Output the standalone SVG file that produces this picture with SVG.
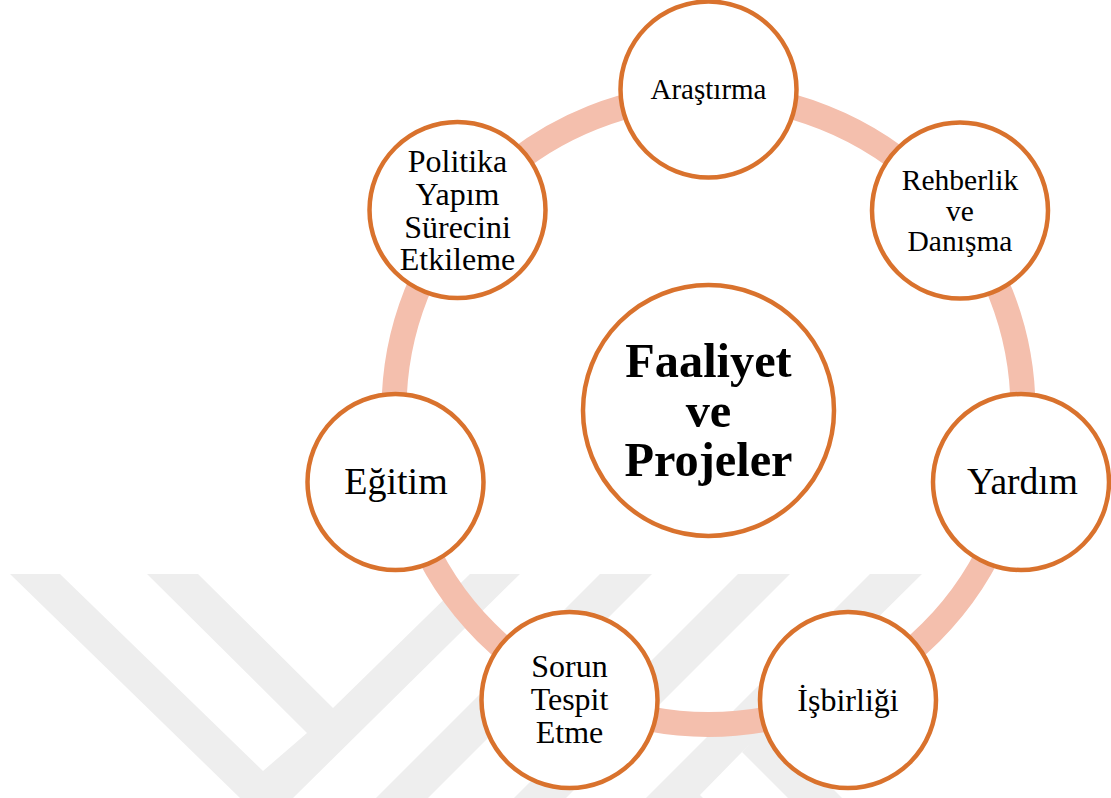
<svg xmlns="http://www.w3.org/2000/svg" width="1111" height="798" viewBox="0 0 1111 798">
<style>
.wm{fill:#eeeeee;stroke:none}
.ring{fill:none;stroke:#f4bfad;stroke-width:25}
.n{fill:#ffffff;stroke:#d9722d;stroke-width:4.5}
text{font-family:"Liberation Serif","Times New Roman",serif;fill:#000000;text-anchor:middle}
</style>
<rect width="1111" height="798" fill="#ffffff"/>
<g id="watermark">
<polygon class="wm" points="10,574 60,574 263,771 307,733 147,574 198,574 333,708 470,574 520,574 293,798 240,798"/>
<polygon class="wm" points="600,574 652,574 428,798 376,798"/>
<polygon class="wm" points="738,574 790,574 566,798 514,798"/>
<polygon class="wm" points="870,574 922,574 742,752 700,795 703,798 646,798 768,676"/>
<polygon class="wm" points="742,752 788,798 842,798 768,724"/>
</g>
<g id="connectors"><circle class="ring" cx="708.5" cy="410" r="314.5"/></g>
<g id="center"><circle class="n" cx="708.5" cy="410.5" r="125.5"/><text font-size="48.3" font-weight="bold"><tspan x="708.5" y="377">Faaliyet</tspan><tspan x="708.5" y="427">ve</tspan><tspan x="708.5" y="476">Projeler</tspan></text></g>
<g id="arastirma"><circle class="n" cx="708.5" cy="89.5" r="88"/><text x="708.5" y="99" font-size="29">Araştırma</text></g>
<g id="rehberlik"><circle class="n" cx="960" cy="210.5" r="88"/><text font-size="29.5"><tspan x="960" y="190">Rehberlik</tspan><tspan x="960" y="221">ve</tspan><tspan x="960" y="250.5">Danışma</tspan></text></g>
<g id="yardim"><circle class="n" cx="1021" cy="482" r="88"/><text x="1022.5" y="494" font-size="37.5">Yardım</text></g>
<g id="isbirligi"><circle class="n" cx="848" cy="700" r="88"/><text x="848" y="711" font-size="32">İşbirliği</text></g>
<g id="sorun"><circle class="n" cx="569.5" cy="700" r="88"/><text font-size="32"><tspan x="569.5" y="677">Sorun</tspan><tspan x="569.5" y="710">Tespit</tspan><tspan x="569.5" y="743">Etme</tspan></text></g>
<g id="egitim"><circle class="n" cx="395.5" cy="482" r="88"/><text x="396" y="494" font-size="38">Eğitim</text></g>
<g id="politika"><circle class="n" cx="457.5" cy="210" r="88"/><text font-size="32"><tspan x="457.5" y="172">Politika</tspan><tspan x="457.5" y="205">Yapım</tspan><tspan x="457.5" y="238">Sürecini</tspan><tspan x="457.5" y="270">Etkileme</tspan></text></g>
</svg>
